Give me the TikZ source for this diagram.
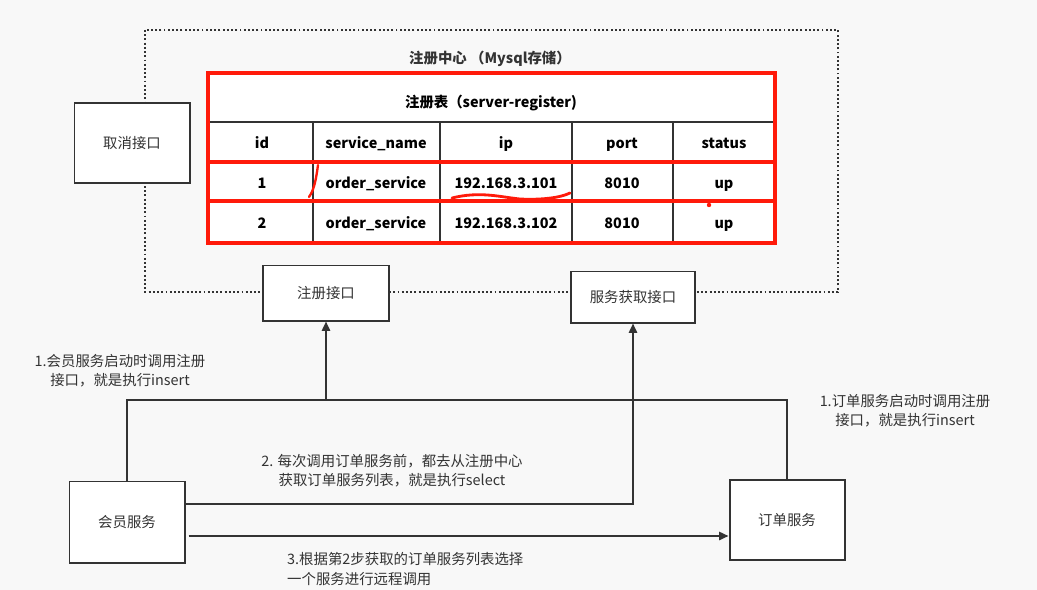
\documentclass[tikz,border=0pt]{standalone}
\usepackage{fontspec}
\setmainfont{Noto Sans CJK SC}
\usetikzlibrary{arrows.meta,calc,positioning}
\definecolor{ink}{HTML}{333333}
\definecolor{paper}{HTML}{F8F8F8}
\definecolor{redpen}{HTML}{FF1A0A}
\tikzset{
  box/.style={draw=ink,line width=1.7pt,fill=white,text=ink,inner sep=0pt,
    font=\fontsize{12.3}{15}\selectfont},
  cell/.style={text=black,inner sep=1pt,text height=1.75ex,text depth=.55ex,yshift=-0.07cm,
    font=\bfseries\fontsize{12.3}{15}\selectfont},
  link/.style={draw=ink,line width=1.7pt},
  note/.style={align=center,text=ink,inner sep=0pt,font=\fontsize{12.3}{16.5}\selectfont}
}

\begin{document}
\begin{tikzpicture}[x=0.03cm,y=-0.03cm,>={Triangle[length=8pt,width=7pt]}]
  \fill[paper] (0,0) rectangle (1037,590);
  \useasboundingbox (0,0) rectangle (1037,590);

  % registry centre
  \draw[ink,line width=1.6pt,dotted] (145,30) rectangle (838,292);
  \node[cell,text=ink] (centre) at (490,57) {注册中心 （Mysql存储）};

  % table
  \fill[white] (208,73) rectangle (775,243);
  \draw[ink,line width=1.2pt] (208,122) -- (775,122);
  \foreach \x in {313,440,572,673}
    \draw[ink,line width=1.2pt] (\x,122) -- (\x,243);
  \node[cell] (tabname) at (491,101) {注册表（server-register)};
  \foreach \x/\t [count=\i] in {262/id,376/service\_name,506/ip,622/port,724/status}
    \node[cell] (head\i) at (\x,142) {\t};
  \foreach \y/\r/\a in {182/1/101,222/2/102} {
    \node[cell] (id\r) at (262,\y) {\r};
    \node[cell] (name\r) at (376,\y) {order\_service};
    \node[cell] (ip\r) at (506,\y) {192.168.3.\a};
    \node[cell] (port\r) at (622,\y) {8010};
    \node[cell] (state\r) at (724,\y) {up};
  }
  \draw[redpen,line width=3.8pt] (208,73) rectangle (775,243);
  \draw[redpen,line width=3.8pt] (208,162) -- (775,162);
  \draw[redpen,line width=3.8pt] (208,201) -- (775,201);
  % hand marks
  \draw[redpen,line width=2pt,line cap=round] (318,165) .. controls (316,180) and (314,190) .. (309,197);
  \draw[redpen,line width=2.4pt,line cap=round] (452,198) .. controls (480,191) and (500,197) .. (520,199)
    .. controls (540,200) and (560,198) .. (570,193);
  \fill[redpen] (709,205) circle (2.2);

  % boxes
  \node[box,minimum width=3.45cm,minimum height=2.4cm] (cancel) at (132,143) {取消接口};
  \node[box,minimum width=3.78cm,minimum height=1.65cm] (regif) at (326,293) {注册接口};
  \node[box,minimum width=3.72cm,minimum height=1.53cm] (fetchif) at (633,297) {服务获取接口};
  \node[box,minimum width=3.45cm,minimum height=2.43cm] (member) at (127,522) {会员服务};
  \node[box,minimum width=3.45cm,minimum height=2.4cm] (order) at (787,520) {订单服务};

  % connectors
  \coordinate (join) at (326,400);
  \draw[link,->] (member.north) |- (join) -- (regif.south);
  \draw[link] (order.north) |- (join);
  \coordinate (m2) at ($(member.east)+(0,-18)$);
  \draw[link,->] (m2) -| (fetchif.south);
  \coordinate (m3) at ($(member.east)+(3,14)$);
  \draw[link,->] (m3) -- (m3 -| order.west);

  % notes
  \node[note] (n1) at (120,371) {1.会员服务启动时调用注册\\接口，就是执行insert};
  \node[note] (n2) at (392,471) {2. 每次调用订单服务前，都去从注册中心\\获取订单服务列表，就是执行select};
  \node[note,align=left,anchor=west] (n3) at (287,569) {3.根据第2步获取的订单服务列表选择\\一个服务进行远程调用};
  \node[note] (n4) at (905,411) {1.订单服务启动时调用注册\\接口，就是执行insert};
\end{tikzpicture}
\end{document}
